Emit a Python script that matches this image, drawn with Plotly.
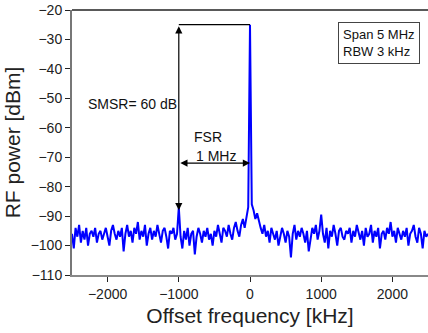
import plotly.graph_objects as go

freq = list(range(-2500, 2501, 25))

seg_a = [-96,-101,-94,-97,-93,-99,-95,-98,-94,-100,-96,-95,-97,-94,-99,-96,-95,-98,-96,-94,
         -97,-100,-95,-93,-96,-98,-95,-97,-94,-102,-96,-93,-97,-95,-99,-94,-96,-92,-98,-95,
         -97,-93,-100,-96,-94,-98,-95,-97,-93,-96,-99,-95,-94,-97,-101,-95,-96,-94,-98,-96]
side_left = [-87]
seg_b = [-97,-101,-95,-98,-94,-100,-96,-95,-103,-97,-94,-96,-99,-95,-97,-94,-98,-96,-100,-95,
         -97,-93,-96,-99,-94,-95,-97,-93,-96,-98,-94,-92,-95,-97,-93,-91,-94,-90,-87]
carrier = [-25]
seg_c = [-86,-88,-91,-89,-92,-94,-96,-93,-97,-95,-99,-94,-96,-98,-95,-100,-97,-94,-96,-99,
         -95,-97,-104,-96,-93,-98,-95,-97,-94,-96,-99,-95,-102,-97,-94,-96,-93,-98,-95]
side_right = [-89.5]
seg_d = [-96,-99,-94,-101,-95,-97,-93,-96,-100,-95,-94,-97,-98,-95,-96,-94,-99,-95,-97,-93,
         -96,-98,-95,-100,-94,-97,-96,-93,-99,-95,-97,-94,-101,-96,-95,-98,-94,-96,-92,-97,
         -95,-99,-94,-96,-98,-95,-97,-94,-100,-96,-95,-93,-97,-99,-94,-96,-101,-95,-97,-96]
power = seg_a + side_left + seg_b + carrier + seg_c + side_right + seg_d

x_ticks = [-2000, -1000, 0, 1000, 2000]
y_ticks = [-110, -100, -90, -80, -70, -60, -50, -40, -30, -20]

font = "Liberation Sans, Arial, sans-serif"

fig = go.Figure()
fig.add_trace(go.Scatter(x=freq, y=power, mode="lines",
                         line=dict(color="#0000ff", width=2), showlegend=False))

fig.update_layout(
    width=428, height=333,
    margin=dict(l=72, r=0, t=10, b=58),
    plot_bgcolor="white", paper_bgcolor="white",
    font=dict(family=font, size=14, color="#222"),
    xaxis=dict(range=[-2500, 2500], tickvals=x_ticks, showgrid=False, zeroline=False,
               showline=True, linecolor="#888", linewidth=2, ticks="outside",
               ticklen=5, tickcolor="#222",
               title=dict(text="Offset frequency [kHz]", font=dict(size=21), standoff=8)),
    yaxis=dict(range=[-110, -20], tickvals=y_ticks, showgrid=False, zeroline=False,
               showline=True, linecolor="#777", linewidth=2, ticks="outside",
               ticklen=5, tickcolor="#222",
               title=dict(text="RF power [dBm]", font=dict(size=21), standoff=4)),
)

# top frame line
fig.add_shape(type="line", xref="paper", yref="paper", x0=0, x1=1, y0=1, y1=1,
              line=dict(color="#222", width=1.5))
# SMSR reference line at carrier level
fig.add_shape(type="line", xref="x", yref="y", x0=-1000, x1=0, y0=-25, y1=-25,
              line=dict(color="black", width=1.2))

# SMSR vertical double arrow
fig.add_annotation(x=-1000, y=-88, ax=-1000, ay=-25, xref="x", yref="y",
                   axref="x", ayref="y", text="", showarrow=True,
                   arrowhead=2, arrowside="end+start", arrowsize=1.2,
                   arrowwidth=1.2, arrowcolor="black")
# FSR horizontal double arrow
fig.add_annotation(x=0, y=-72, ax=-1000, ay=-72, xref="x", yref="y",
                   axref="x", ayref="y", text="", showarrow=True,
                   arrowhead=2, arrowside="end+start", arrowsize=1.2,
                   arrowwidth=1.2, arrowcolor="black")

fig.add_annotation(x=-1657, y=-52, text="SMSR= 60 dB", showarrow=False,
                   font=dict(size=14, color="#111"))
fig.add_annotation(x=-590, y=-63.2, text="FSR", showarrow=False,
                   font=dict(size=14, color="#111"))
fig.add_annotation(x=-480, y=-69.6, text="1 MHz", showarrow=False,
                   font=dict(size=14, color="#111"))

fig.add_annotation(x=1810, y=-31.1, text="Span 5 MHz<br>RBW 3 kHz", showarrow=False,
                   align="left", bordercolor="#444", borderwidth=1, borderpad=4,
                   bgcolor="white", font=dict(size=13, color="#111"))

fig.write_html("out.html")
